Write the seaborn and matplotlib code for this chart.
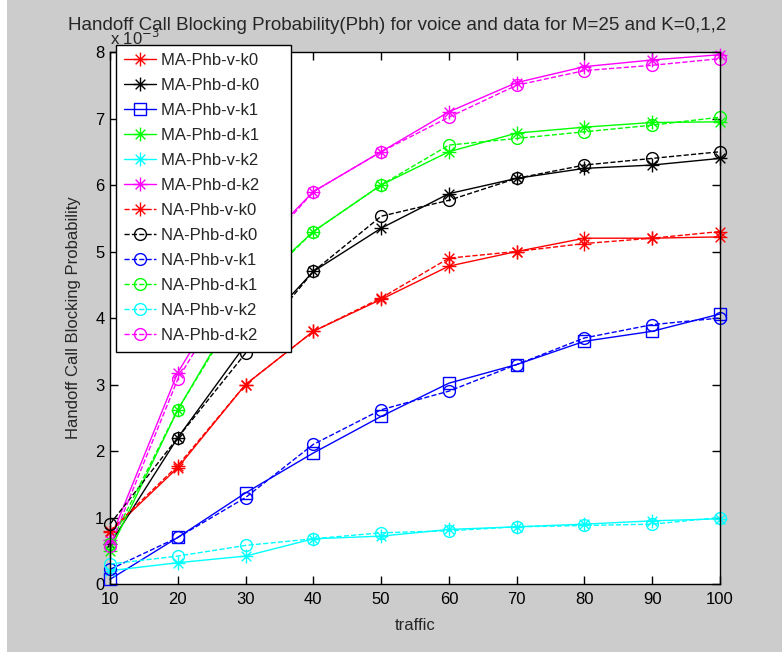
import matplotlib
matplotlib.use("Agg")
import matplotlib.pyplot as plt
import seaborn as sns
from matplotlib.path import Path
from matplotlib.patches import Rectangle

# traffic values (x axis)
traffic = [10, 20, 30, 40, 50, 60, 70, 80, 90, 100]

# handoff call blocking probability, in units of 1e-3
ma_v_k0 = [0.78, 1.75, 3.0, 3.8, 4.28, 4.78, 5.0, 5.2, 5.2, 5.22]
ma_d_k0 = [0.6, 2.2, 3.6, 4.7, 5.35, 5.87, 6.1, 6.25, 6.3, 6.4]
ma_v_k1 = [0.07, 0.7, 1.37, 1.97, 2.52, 3.02, 3.3, 3.65, 3.8, 4.06]
ma_d_k1 = [0.5, 2.62, 4.35, 5.3, 6.0, 6.5, 6.78, 6.87, 6.94, 6.95]
ma_v_k2 = [0.2, 0.32, 0.42, 0.68, 0.72, 0.82, 0.86, 0.9, 0.95, 0.98]
ma_d_k2 = [0.66, 3.18, 4.85, 5.9, 6.5, 7.1, 7.54, 7.78, 7.88, 7.96]
na_v_k0 = [0.8, 1.78, 3.0, 3.8, 4.3, 4.9, 5.0, 5.12, 5.2, 5.3]
na_d_k0 = [0.9, 2.2, 3.47, 4.7, 5.53, 5.77, 6.1, 6.3, 6.4, 6.5]
na_v_k1 = [0.22, 0.7, 1.3, 2.1, 2.62, 2.9, 3.3, 3.7, 3.9, 4.0]
na_d_k1 = [0.6, 2.62, 4.3, 5.3, 6.0, 6.6, 6.7, 6.8, 6.9, 7.02]
na_v_k2 = [0.3, 0.42, 0.58, 0.68, 0.77, 0.8, 0.86, 0.88, 0.9, 1.0]
na_d_k2 = [0.57, 3.08, 4.75, 5.9, 6.5, 7.02, 7.5, 7.72, 7.8, 7.9]

labels = ['MA-Phb-v-k0', 'MA-Phb-d-k0', 'MA-Phb-v-k1', 'MA-Phb-d-k1',
          'MA-Phb-v-k2', 'MA-Phb-d-k2', 'NA-Phb-v-k0', 'NA-Phb-d-k0',
          'NA-Phb-v-k1', 'NA-Phb-d-k1', 'NA-Phb-v-k2', 'NA-Phb-d-k2']
series = [ma_v_k0, ma_d_k0, ma_v_k1, ma_d_k1, ma_v_k2, ma_d_k2,
          na_v_k0, na_d_k0, na_v_k1, na_d_k1, na_v_k2, na_d_k2]
colors = ['#ff0000', '#000000', '#0000ff', '#00ff00', '#00ffff', '#ff00ff'] * 2

# matlab style asterisk marker (+ and x together)
star = Path([(-1, 0), (1, 0), (0, -1), (0, 1),
             (-0.7, -0.7), (0.7, 0.7), (-0.7, 0.7), (0.7, -0.7)],
            [Path.MOVETO, Path.LINETO] * 4)
markers = [star, star, 's', star, star, star,
           star, 'o', 'o', 'o', 'o', 'o']
styles = ['-'] * 6 + ['--'] * 6

sns.set_style('ticks')
plt.rcParams['font.family'] = ['Liberation Sans', 'DejaVu Sans']
plt.rcParams['font.size'] = 12

fig = plt.figure(figsize=(7.82, 6.52), dpi=100, facecolor='#cccccc')
fig.add_artist(Rectangle((0, 0), 7 / 782, 1, transform=fig.transFigure,
                         facecolor='white', edgecolor='none'))
ax = fig.add_axes([110 / 782, 1 - 584 / 652, 610 / 782, 532 / 652])
ax.set_facecolor('white')

for lab, vals, col, mk, ls in zip(labels, series, colors, markers, styles):
    ms = 10 if mk is star else 8.5
    sns.lineplot(x=traffic, y=vals, ax=ax, color=col, marker=mk, markersize=ms,
                 markerfacecolor='none', markeredgecolor=col, markeredgewidth=1,
                 linestyle=ls, linewidth=1, label=lab + '     ', clip_on=False)

ax.set_xlim(10, 100)
ax.set_ylim(0, 8)
ax.set_xticks(traffic)
ax.set_yticks(range(0, 9))
ax.tick_params(direction='in', top=True, right=True, length=6, width=1,
               colors='black', labelsize=12)
ax.tick_params(axis='x', pad=6)
ax.tick_params(axis='y', pad=4)
for s in ax.spines.values():
    s.set_visible(True)
    s.set_color('black')
    s.set_linewidth(1)

ax.set_xlabel('traffic', fontsize=12, labelpad=8)
ax.set_ylabel('Handoff Call Blocking Probability', fontsize=12, labelpad=10)
ax.set_title('Handoff Call Blocking Probability(Pbh) for voice and data for M=25 and K=0,1,2',
             fontsize=13.5, pad=16, x=(397 - 110) / 610)
ax.text(0.0, 1.008, r'x 10$^{-3}$', transform=ax.transAxes, fontsize=12,
        ha='left', va='bottom')

leg = ax.legend(loc='upper left', bbox_to_anchor=(116 / 782, 1 - 45 / 652),
                bbox_transform=fig.transFigure, borderaxespad=0, fontsize=12,
                frameon=True, fancybox=False, framealpha=1, edgecolor='black',
                handlelength=1.9, handletextpad=0.3, labelspacing=0.6,
                borderpad=0.5)
leg.get_frame().set_linewidth(1)

fig.savefig('out.png', dpi=100, facecolor=fig.get_facecolor())
